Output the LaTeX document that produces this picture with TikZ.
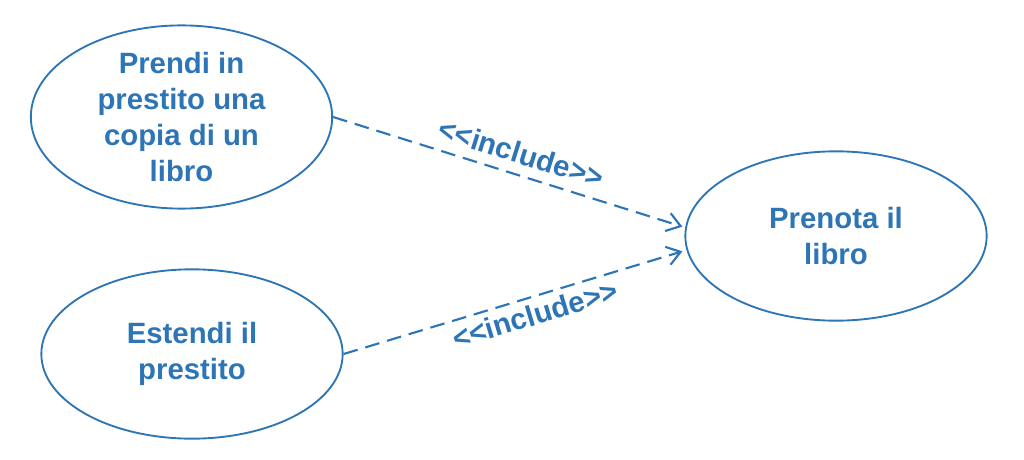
\documentclass[tikz,border=0pt]{standalone}
\usepackage{fontspec}
\setmainfont{Liberation Sans}
\usetikzlibrary{shapes.geometric, arrows.meta}
\definecolor{ucblue}{RGB}{46,117,182}
\tikzstyle{usecase} = [ellipse, 
minimum width=226pt, 
minimum height=127pt, 
inner sep=0pt,
align=center, 
draw=ucblue, 
line width=1.4pt,
text=ucblue,
font=\fontsize{22}{27}\selectfont\bfseries]
\tikzstyle{tip} = [coordinate]
\tikzstyle{incl} = [line width=1.6pt, draw=ucblue,
dash pattern=on 11pt off 6pt,
-{Straight Barb[length=10pt, width=14pt]}]
\tikzstyle{stereo} = [sloped, 
text=ucblue, 
font=\fontsize{22}{24}\selectfont\bfseries]

\begin{document}
\begin{tikzpicture}[x=0.75pt, y=-0.75pt]
		\useasboundingbox (0,0) rectangle (1024,460);
		\node (prendi) [usecase] at (181.5,117) {Prendi in\\ prestito una\\ copia di un\\ libro};
		\node (estendi) [usecase] at (192,354) {Estendi il\\ prestito};
		\node (prenota) [usecase] at (836,236) {Prenota il\\ libro};
	
		\node (tipA) [tip] at ([xshift=-1.5pt, yshift=7pt]prenota.west) {};
		\node (tipB) [tip] at ([xshift=-1.5pt, yshift=-11.5pt]prenota.west) {};
	
		\draw [incl] (prendi.east) -- node[stereo, pos=0.52, above=4pt] {{<}{<}include{>}{>}} (tipA);
		\draw [incl] (estendi.east) -- node[stereo, pos=0.55, below=1pt] {{<}{<}include{>}{>}} (tipB);
	\end{tikzpicture}
\end{document}
